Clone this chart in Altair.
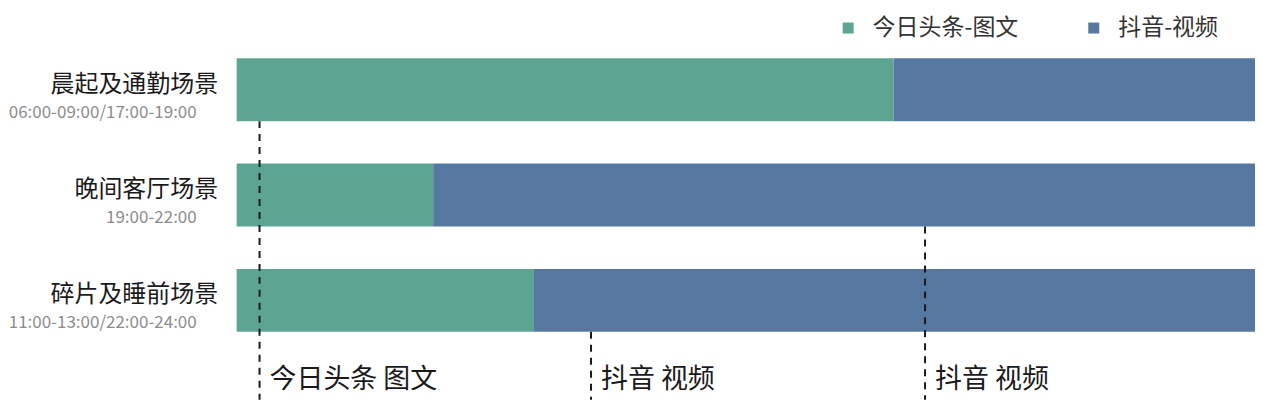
import altair as alt
import pandas as pd

# ---- data ----
scenes = ["晨起及通勤场景", "晚间客厅场景", "碎片及睡前场景"]
times = ["06:00-09:00/17:00-19:00", "19:00-22:00", "11:00-13:00/22:00-24:00"]
series = ["今日头条-图文", "抖音-视频"]
toutiao = [64.5, 19.3, 29.2]
douyin = [35.5, 80.7, 70.8]
marker_x = [2.25, 34.8, 67.6]
marker_from = ["晨起及通勤场景", "碎片及睡前场景", "晚间客厅场景"]
marker_text = ["今日头条 图文", "抖音 视频", "抖音 视频"]
colors = ["#5ea493", "#56779f"]

W, H = 1020, 350
FONT = "Noto Sans CJK SC"

rows = []
for i, s in enumerate(scenes):
    rows.append({"scene": s, "series": series[0], "value": toutiao[i], "order": 0})
    rows.append({"scene": s, "series": series[1], "value": douyin[i], "order": 1})
bars_df = pd.DataFrame(rows)
time_df = pd.DataFrame({"scene": scenes, "time": times})
mark_df = pd.DataFrame({"scene": marker_from, "x": marker_x, "label": marker_text})

yscale = alt.Scale(domain=scenes, paddingInner=0.403, paddingOuter=0.36, align=0.237)
xscale = alt.Scale(domain=[0, 100], nice=False, zero=True)
yaxis = alt.Axis(title=None, domain=False, ticks=False, labelFontSize=24, labelFont=FONT,
                 labelColor="#1a1a1a", labelPadding=19, labelOffset=-5, labelLimit=400)

bars = alt.Chart(bars_df).mark_bar(strokeWidth=0).encode(
    x=alt.X("value:Q", stack="zero", scale=xscale, axis=None),
    y=alt.Y("scene:N", scale=yscale, sort=scenes, axis=yaxis),
    color=alt.Color("series:N", scale=alt.Scale(domain=series, range=colors),
                    legend=alt.Legend(title=None, orient="none", legendX=601, legendY=-24,
                                      direction="horizontal", symbolType="square",
                                      symbolSize=121, symbolStrokeWidth=0,
                                      labelFontSize=23, labelFont=FONT, labelColor="#333333",
                                      labelLimit=300, columnPadding=64, labelOffset=13,
                                      padding=0)),
    order=alt.Order("order:Q"),
)

rules = alt.Chart(mark_df).mark_rule(strokeDash=[7, 6], strokeWidth=2, color="#1a1a1a").encode(
    x=alt.X("x:Q", scale=xscale, axis=None),
    y=alt.Y("scene:N", bandPosition=1, scale=yscale, sort=scenes, axis=yaxis),
    y2=alt.value(H + 10),
)

labels = alt.Chart(mark_df).mark_text(align="left", baseline="middle", dx=10, fontSize=27,
                                      font=FONT, color="#1a1a1a").encode(
    x=alt.X("x:Q", scale=xscale, axis=None),
    y=alt.value(H - 10),
    text="label:N",
)

tlabels = alt.Chart(time_df).mark_text(align="right", baseline="middle", dy=23, fontSize=17,
                                       font=FONT, color="#8c8c8c").encode(
    x=alt.value(-40),
    y=alt.Y("scene:N", scale=yscale, sort=scenes, axis=yaxis),
    text="time:N",
)

chart = alt.layer(bars, rules, labels, tlabels).properties(
    width=W, height=H,
    autosize=alt.AutoSizeParams(type="none"),
    padding={"left": 229, "top": 32, "right": 0, "bottom": 10},
    background="white",
).configure_view(strokeWidth=0)

chart.save("out.html", embed_options={"renderer": "svg", "actions": False})
